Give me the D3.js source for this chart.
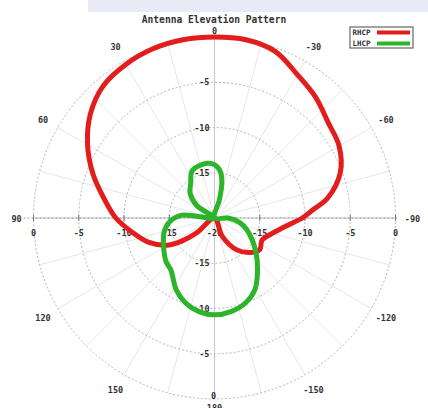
<!DOCTYPE html>
<html>
<head>
<meta charset="utf-8">
<script src="https://cdn.jsdelivr.net/npm/d3@7"></script>
<style>
  html, body { margin: 0; padding: 0; background: #fff; }
  svg { display: block; }
</style>
</head>
<body>
<svg id="chart" width="428" height="408"></svg>
<script>
// Antenna elevation pattern, dB vs angle (degrees, counter-clockwise from top)
const title = "Antenna Elevation Pattern";

const rhcpAngles = [-180, -157, -145, -135, -125, -115, -105, -100, -95, -90, -85, -80, -70, -60, -50, -40, -30, -20, -10,
  0, 10, 20, 30, 40, 50, 60, 70, 80, 90, 100, 110, 120, 125, 130];
const rhcpValues = [-20, -17.8, -15.7, -14.6, -13.9, -14.2, -13.4, -12.7, -11.7, -10.3, -9.0, -7.3, -5.2, -4.1, -3.6, -2.6, -1.7, -0.4, 0,
  0, 0, -0.1, -0.4, -0.9, -2.1, -3.8, -5.7, -7.6, -9.1, -10.8, -12.2, -14.0, -15.5, -17.6];

const lhcpAngles = [-180, -170, -160, -150, -140, -130, -120, -110, -100, -90, -50, -15, -12, -7,
  0, 8, 25, 34, 45, 55, 68, 85, 95, 106, 122, 132, 140, 152, 161, 171];
const lhcpValues = [-9.3, -9.5, -10.0, -11.0, -12.6, -14.0, -15.2, -16.2, -17.2, -18.5, -20, -18.0, -16.1, -14.8,
  -14.1, -13.9, -14.2, -15.3, -16.2, -17.6, -20, -16.4, -15.0, -14.2, -13.4, -12.8, -12.5, -11.0, -10.1, -9.5];

const ringLevels = [-15, -10, -5, 0];
const radialTicks = [0, -5, -10, -15];
const angleTicks = [0, 30, 60, 90, 120, 150, 180, -150, -120, -90, -60, -30];
const legendNames = ["RHCP", "LHCP"];
const colors = ["#e31c1c", "#2cb42a"];

const svg = d3.select("#chart");
const cx = 214.5, cy = 218, R = 181;

const r = d3.scaleLinear().domain([-20, 0]).range([0, R]).clamp(true);
const rad = d => -d * Math.PI / 180; // ccw-from-top degrees -> d3 radial angle

// window strip at the top
svg.append("rect").attr("x", 88).attr("y", 0).attr("width", 340).attr("height", 12)
  .attr("fill", "#e8eaf5");

const g = svg.append("g").attr("transform", `translate(${cx},${cy})`);

// spokes
g.selectAll(".spoke").data(d3.range(0, 360, 15)).enter().append("line")
  .attr("x1", 0).attr("y1", 0)
  .attr("x2", d => R * Math.sin(d * Math.PI / 180))
  .attr("y2", d => -R * Math.cos(d * Math.PI / 180))
  .attr("stroke", d => d % 90 === 0 ? "#c8c8c8" : "#e6e6e6")
  .attr("stroke-width", 1);

// rings
g.selectAll(".ring").data(ringLevels).enter().append("circle")
  .attr("r", d => r(d))
  .attr("fill", "none")
  .attr("stroke", "#b4b4b4")
  .attr("stroke-width", 1)
  .attr("stroke-dasharray", "2,2");

// horizontal axis dotted
g.append("line").attr("x1", -R - 10).attr("x2", R + 4).attr("y1", 0).attr("y2", 0)
  .attr("stroke", "#9a9a9a").attr("stroke-dasharray", "2,2");

const labelFont = "'DejaVu Sans Mono', monospace";

// radial labels along horizontal axis
const hTicks = [];
radialTicks.forEach(v => { hTicks.push({ v, x: -r(v) }); hTicks.push({ v, x: r(v) }); });
hTicks.push({ v: -20, x: 0 });
g.selectAll(".htick").data(hTicks).enter().append("line")
  .attr("x1", d => d.x).attr("x2", d => d.x).attr("y1", -3).attr("y2", 3)
  .attr("stroke", "#777");
g.selectAll(".hlab").data(hTicks).enter().append("text")
  .attr("x", d => d.x).attr("y", 18)
  .attr("text-anchor", "middle")
  .attr("font-family", labelFont).attr("font-weight", "bold").attr("font-size", 8.5)
  .attr("fill", "#333")
  .text(d => d.v);

// radial labels along vertical axis
const vTicks = [];
radialTicks.filter(v => v !== 0).forEach(v => { vTicks.push({ v, y: -r(v) }); vTicks.push({ v, y: r(v) }); });
g.selectAll(".vlab").data(vTicks).enter().append("text")
  .attr("x", -5).attr("y", d => d.y + 3)
  .attr("text-anchor", "end")
  .attr("font-family", labelFont).attr("font-weight", "bold").attr("font-size", 8.5)
  .attr("fill", "#333")
  .text(d => d.v);
g.append("text").attr("x", -1).attr("y", r(0))
  .attr("text-anchor", "middle")
  .attr("font-family", labelFont).attr("font-weight", "bold").attr("font-size", 8.5)
  .attr("fill", "#333").text(0);

// angle labels
const labelR = d => d === 0 ? 188 : d === 180 ? 189.5 : 198;
g.selectAll(".alab").data(angleTicks).enter().append("text")
  .attr("x", d => -labelR(d) * Math.sin(d * Math.PI / 180))
  .attr("y", d => -labelR(d) * Math.cos(d * Math.PI / 180) + 3.5)
  .attr("text-anchor", "middle")
  .attr("font-family", labelFont).attr("font-weight", "bold").attr("font-size", 8.5)
  .attr("fill", "#333")
  .text(d => d);

// pattern curves
const line = d3.lineRadial()
  .angle(d => rad(d[0]))
  .radius(d => r(d[1]))
  .curve(d3.curveCatmullRomClosed.alpha(0.5));

const series = [d3.zip(rhcpAngles, rhcpValues), d3.zip(lhcpAngles, lhcpValues)];
g.selectAll(".pattern").data(series).enter().append("path")
  .attr("d", line)
  .attr("fill", "none")
  .attr("stroke", (d, i) => colors[i])
  .attr("stroke-width", 5)
  .attr("stroke-linejoin", "round");

// title
svg.append("text").attr("x", 214).attr("y", 23)
  .attr("text-anchor", "middle")
  .attr("font-family", labelFont).attr("font-weight", "bold").attr("font-size", 9.6)
  .attr("fill", "#333")
  .text(title);

// legend
const lg = svg.append("g").attr("transform", "translate(350,27)");
lg.append("rect").attr("width", 63).attr("height", 21)
  .attr("fill", "#fff").attr("stroke", "#666").attr("stroke-width", 1.2);
legendNames.forEach((name, i) => {
  lg.append("text").attr("x", 2.5).attr("y", 8 + i * 11)
    .attr("font-family", labelFont).attr("font-weight", "bold").attr("font-size", 7.5)
    .attr("fill", "#333").text(name);
  lg.append("line").attr("x1", 27).attr("x2", 60)
    .attr("y1", 5.5 + i * 11).attr("y2", 5.5 + i * 11)
    .attr("stroke", colors[i]).attr("stroke-width", 4);
});
</script>
</body>
</html>
